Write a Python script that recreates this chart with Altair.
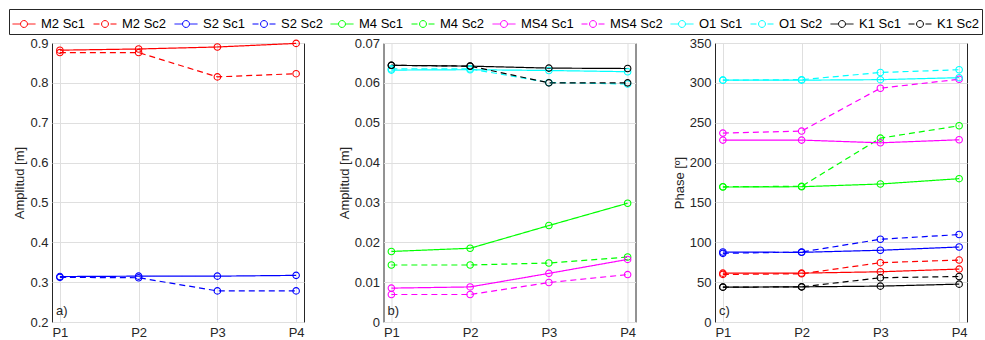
import altair as alt
import pandas as pd

# ---------------- data ----------------
positions = [1, 2, 3, 4]

series_names = ["M2 Sc1", "M2 Sc2", "S2 Sc1", "S2 Sc2", "M4 Sc1", "M4 Sc2",
                "MS4 Sc1", "MS4 Sc2", "O1 Sc1", "O1 Sc2", "K1 Sc1", "K1 Sc2"]
series_colors = ["#ff0000", "#ff0000", "#0000ff", "#0000ff", "#00ff00", "#00ff00",
                 "#ff00ff", "#ff00ff", "#00ffff", "#00ffff", "#000000", "#000000"]
series_dash = [[1, 0], [6, 4]] * 6

# panel a) amplitude [m]
amp_M2_sc1 = [0.882, 0.885, 0.890, 0.899]
amp_M2_sc2 = [0.876, 0.876, 0.815, 0.823]
amp_S2_sc1 = [0.314, 0.315, 0.315, 0.317]
amp_S2_sc2 = [0.312, 0.311, 0.278, 0.278]

# panel b) amplitude [m]
amp_M4_sc1 = [0.0177, 0.0185, 0.0242, 0.0298]
amp_M4_sc2 = [0.0143, 0.0143, 0.0148, 0.0163]
amp_MS4_sc1 = [0.0085, 0.0088, 0.0122, 0.0157]
amp_MS4_sc2 = [0.0069, 0.0069, 0.0099, 0.0119]
amp_O1_sc1 = [0.0632, 0.0633, 0.0631, 0.0628]
amp_O1_sc2 = [0.0635, 0.0635, 0.0601, 0.0597]
amp_K1_sc1 = [0.0644, 0.0642, 0.0637, 0.0636]
amp_K1_sc2 = [0.0644, 0.0642, 0.0600, 0.0600]

# panel c) phase [deg]
pha_M2_sc1 = [61.3, 61.3, 63.0, 66.4]
pha_M2_sc2 = [59.7, 60.5, 74.4, 77.7]
pha_S2_sc1 = [87.8, 87.4, 90.0, 94.1]
pha_S2_sc2 = [86.1, 87.8, 103.8, 109.7]
pha_M4_sc1 = [169.3, 169.7, 173.1, 179.8]
pha_M4_sc2 = [169.7, 170.2, 230.7, 246.2]
pha_MS4_sc1 = [228.2, 228.2, 224.8, 228.6]
pha_MS4_sc2 = [237.0, 239.5, 293.3, 304.5]
pha_O1_sc1 = [303.4, 303.4, 304.0, 306.5]
pha_O1_sc2 = [303.4, 304.0, 313.0, 316.5]
pha_K1_sc1 = [43.7, 44.1, 45.0, 47.5]
pha_K1_sc2 = [43.7, 44.1, 55.5, 57.1]

panel_a_series = {"M2 Sc1": amp_M2_sc1, "M2 Sc2": amp_M2_sc2,
                  "S2 Sc1": amp_S2_sc1, "S2 Sc2": amp_S2_sc2}
panel_b_series = {"M4 Sc1": amp_M4_sc1, "M4 Sc2": amp_M4_sc2,
                  "MS4 Sc1": amp_MS4_sc1, "MS4 Sc2": amp_MS4_sc2,
                  "O1 Sc1": amp_O1_sc1, "O1 Sc2": amp_O1_sc2,
                  "K1 Sc1": amp_K1_sc1, "K1 Sc2": amp_K1_sc2}
panel_c_series = {"M2 Sc1": pha_M2_sc1, "M2 Sc2": pha_M2_sc2,
                  "S2 Sc1": pha_S2_sc1, "S2 Sc2": pha_S2_sc2,
                  "M4 Sc1": pha_M4_sc1, "M4 Sc2": pha_M4_sc2,
                  "MS4 Sc1": pha_MS4_sc1, "MS4 Sc2": pha_MS4_sc2,
                  "O1 Sc1": pha_O1_sc1, "O1 Sc2": pha_O1_sc2,
                  "K1 Sc1": pha_K1_sc1, "K1 Sc2": pha_K1_sc2}

FONT = "Liberation Sans"
AX = "#262626"
GRID = "#dfdfdf"
W, H = 252, 279

# legend symbol: line - open circle - line; every piece is its own short
# subpath so a dashed stroke leaves the circle whole
_r, _d = 0.3, 0.212
_pts = [(_r, 0), (_d, _d), (0, _r), (-_d, _d), (-_r, 0), (-_d, -_d), (0, -_r), (_d, -_d)]
_arcs = "".join(
    f"M{_pts[i][0]},{_pts[i][1]}A{_r},{_r},0,0,1,{_pts[(i + 1) % 8][0]},{_pts[(i + 1) % 8][1]}"
    for i in range(8))
LEG_PATH = f"M-1,0L-{_r},0M1,0L{_r},0" + _arcs


def long_df(d):
    rows = []
    for name, vals in d.items():
        order = series_names.index(name)
        for p, v in zip(positions, vals):
            rows.append({"series": name, "pos": p, "val": v, "ord": order})
    return pd.DataFrame(rows)


def panel(d, ydomain, yvalues, ytitle, yfmt, tag):
    df = long_df(d)
    x = alt.X("pos:Q",
              scale=alt.Scale(domain=[0.9, 4.1], nice=False, zero=False),
              axis=alt.Axis(values=positions, labelExpr="'P' + datum.value",
                            title=None, grid=True, ticks=False, domain=False,
                            labelPadding=4, gridColor=GRID, labelOverlap=False))
    y = alt.Y("val:Q",
              scale=alt.Scale(domain=ydomain, nice=False, zero=False),
              axis=alt.Axis(values=yvalues, labelExpr=yfmt, title=ytitle,
                            grid=True, ticks=False, domain=False,
                            labelPadding=4, titlePadding=3, gridColor=GRID,
                            labelOverlap=False, labelFlush=False))
    color = alt.Color("series:N",
                      scale=alt.Scale(domain=series_names, range=series_colors),
                      legend=alt.Legend(title=None))
    dash = alt.StrokeDash("series:N",
                          scale=alt.Scale(domain=series_names, range=series_dash),
                          legend=alt.Legend(title=None))
    lines = alt.Chart(df).mark_line(strokeWidth=1.2).encode(
        x=x, y=y, color=color, strokeDash=dash, order="pos:Q")
    pts = alt.Chart(df).mark_point(filled=False, size=42, strokeWidth=1.1,
                                   opacity=1).encode(x=x, y=y, color=color)
    lab = alt.Chart(pd.DataFrame({"pos": [0.9], "val": [ydomain[0]],
                                  "t": [tag]})).mark_text(
        align="left", baseline="bottom", dx=4, dy=-4, fontSize=13,
        font=FONT, color=AX).encode(x=x, y=y, text="t:N")
    return alt.layer(lines, pts, lab).properties(width=W, height=H)


pa = panel(panel_a_series, [0.2, 0.9], [0.2, 0.3, 0.4, 0.5, 0.6, 0.7, 0.8, 0.9],
           "Amplitud [m]", "format(datum.value, '.1f')", "a)")
pb = panel(panel_b_series, [0, 0.07], [0, 0.01, 0.02, 0.03, 0.04, 0.05, 0.06, 0.07],
           "Amplitud [m]",
           "datum.value == 0 ? '0' : format(datum.value, '.2f')", "b)")
pc = panel(panel_c_series, [0, 350], [0, 50, 100, 150, 200, 250, 300, 350],
           "Phase [º]", "format(datum.value, 'd')", "c)")

chart = alt.hconcat(pa, pb, pc, spacing=79.5, bounds="flush").resolve_scale(
    y="independent", x="independent", color="shared", strokeDash="shared"
).properties(
    padding={"left": 8, "top": 8, "right": 0, "bottom": 0}
).configure(
    font=FONT
).configure_view(
    stroke=AX, strokeWidth=1
).configure_axis(
    labelFont=FONT, labelFontSize=13, labelColor=AX,
    titleFont=FONT, titleFontSize=13, titleFontWeight="normal", titleColor=AX
).configure_legend(
    orient="none", legendX=-43, legendY=-34,
    direction="horizontal", columns=12,
    labelFont=FONT, labelFontSize=13, labelColor="#000000",
    symbolType=LEG_PATH, symbolSize=529, symbolStrokeWidth=1,
    symbolFillColor="transparent",
    labelOffset=5, columnPadding=5, padding=3,
    strokeColor=AX, fillColor="#ffffff", labelLimit=200
)

chart.save("out.html", embed_options={"renderer": "svg", "actions": False})
